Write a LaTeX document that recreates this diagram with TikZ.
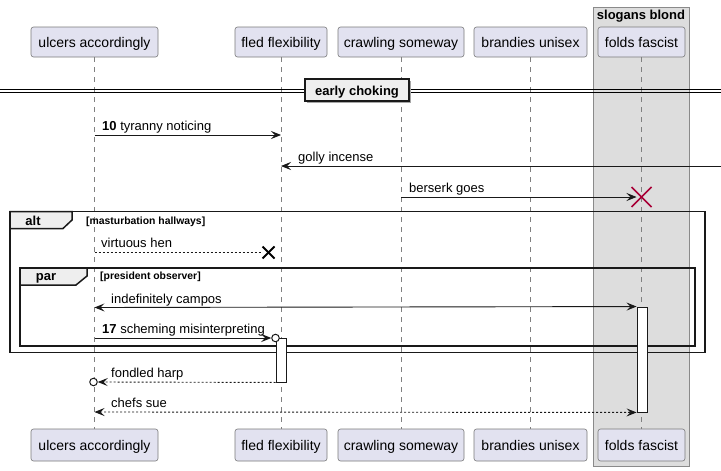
\documentclass[tikz,border=0pt]{standalone}
\usepackage{fontspec}
\setmainfont{Liberation Sans}
\usetikzlibrary{arrows.meta}
\definecolor{partfill}{HTML}{E2E2F0}
\definecolor{partline}{HTML}{7A7A7A}
\definecolor{grpfill}{HTML}{DDDDDD}
\definecolor{grpline}{HTML}{8A8A8A}
\definecolor{tabfill}{HTML}{EEEEEE}
\definecolor{xred}{HTML}{A80036}
\definecolor{lifec}{HTML}{808080}
\begin{document}
\begin{tikzpicture}[x=1pt,y=-1pt,
  part/.style={draw=partline,fill=partfill,rounded corners=2.5pt,line width=0.6pt,
    font=\fontsize{14}{16}\selectfont,inner sep=0pt,minimum height=30pt,
    text height=11.5pt,text depth=1.5pt},
  life/.style={draw=lifec,line width=0.6pt,dash pattern=on 5pt off 5pt},
  msgline/.style={line width=0.9pt,draw=black!90},
  tip/.style={-{Stealth[length=10pt,width=8pt,inset=4pt]}},
  bitip/.style={{Stealth[length=10pt,width=8pt,inset=4pt]}-{Stealth[length=10pt,width=8pt,inset=4pt]}},
  dashmsg/.style={dash pattern=on 2pt off 2pt},
  msg/.style={font=\fontsize{13}{15}\selectfont,anchor=base west,inner sep=0pt},
  frameline/.style={line width=1.5pt,draw=black!90},
  tabtext/.style={font=\bfseries\fontsize{13}{15}\selectfont,anchor=base,inner sep=0pt},
  condtext/.style={font=\bfseries\fontsize{10.4}{12}\selectfont,anchor=base west,inner sep=0pt},
  act/.style={draw=black!90,fill=white,line width=0.9pt,minimum width=10pt,inner sep=0pt},
  circ/.style={circle,draw=black!90,line width=1pt,fill=white,minimum size=7.5pt,inner sep=0pt}
]
\useasboundingbox (0,0) rectangle (721,471);
\fill[white] (0,0) rectangle (721,471);

% group box
\draw[draw=grpline,fill=grpfill,line width=0.8pt] (593,7) rectangle (689,466);
\node[font=\bfseries\fontsize{13}{15}\selectfont,anchor=base,inner sep=0pt] (grp) at (641,19.5) {slogans blond};

% participants top
\node[part,minimum width=127pt] (ua) at (94.5,42) {ulcers accordingly};
\node[part,minimum width=92pt] (ff) at (281,42) {fled flexibility};
\node[part,minimum width=126pt] (cs) at (401,42) {crawling someway};
\node[part,minimum width=113pt] (bu) at (530.5,42) {brandies unisex};
\node[part,minimum width=87pt] (fo) at (641.5,42) {folds fascist};
% participants bottom
\node[part,minimum width=127pt,minimum height=32pt] (uab) at (94.5,445) {ulcers accordingly};
\node[part,minimum width=92pt,minimum height=32pt] (ffb) at (281,445) {fled flexibility};
\node[part,minimum width=126pt,minimum height=32pt] (csb) at (401,445) {crawling someway};
\node[part,minimum width=113pt,minimum height=32pt] (bub) at (530.5,445) {brandies unisex};
\node[part,minimum width=87pt,minimum height=32pt] (fob) at (641.5,445) {folds fascist};

% lifelines
\draw[life] (ua.south) -- (uab.north);
\draw[life] (ff.south) -- (ffb.north);
\draw[life] (cs.south) -- (csb.north);
\draw[life] (bu.south) -- (bub.north);
\draw[life] (fo.south) -- (fob.north);

% divider
\draw[line width=0.9pt] (0,89.5) -- (721,89.5);
\draw[line width=0.9pt] (0,92.5) -- (721,92.5);
\fill[black!35] (307,81) rectangle (411,103);
\node[draw=black!90,fill=tabfill,line width=1.5pt,minimum width=104pt,minimum height=22pt,inner sep=0pt] (div) at (357,90) {};
\node[tabtext] (divt) at (357,95) {early choking};

% message 1
\coordinate (m1a) at (ua |- 0,135);
\coordinate (m1b) at (ff |- 0,135);
\draw[msgline,tip] (m1a) -- (m1b);
\node[msg] (l1) at (102,130.5) {\textbf{10} tyranny noticing};

% message 2
\coordinate (m2a) at (721,166);
\coordinate (m2b) at (ff |- 0,166);
\draw[msgline,tip] (m2a) -- (m2b);
\node[msg] (l2) at (298,161.5) {golly incense};

% message 3 with destroy
\coordinate (m3a) at (cs |- 0,197);
\coordinate (m3b) at (636.5,197);
\coordinate (x3) at (fo |- 0,197);
\draw[msgline,tip] (m3a) -- (m3b);
\draw[xred,line width=1.6pt] ([shift={(-10,-10)}]x3) -- ([shift={(10,10)}]x3);
\draw[xred,line width=1.6pt] ([shift={(-10,10)}]x3) -- ([shift={(10,-10)}]x3);
\node[msg] (l3) at (409,192) {berserk goes};

% alt frame
\draw[frameline] (10,211.5) rectangle (705,352.5);
\draw[frameline,fill=tabfill] (10,211.5) -- (72,211.5) -- (72,220) -- (63,228.5) -- (10,228.5) -- cycle;
\node[tabtext] (altt) at (33,225) {alt};
\node[condtext] (altc) at (86,224.5) {[masturbation hallways]};

% virtuous hen
\coordinate (m4a) at (ua |- 0,252.5);
\coordinate (x4) at (268.5,252.5);
\draw[msgline,dashmsg] (m4a) -- (262,252.5);
\draw[line width=1.8pt] ([shift={(-6,-6)}]x4) -- ([shift={(6,6)}]x4);
\draw[line width=1.8pt] ([shift={(-6,6)}]x4) -- ([shift={(6,-6)}]x4);
\node[msg] (l4) at (101,247.5) {virtuous hen};

% par frame
\draw[frameline] (20,268) rectangle (695,346);
\draw[frameline,fill=tabfill] (20,268) -- (87,268) -- (87,276) -- (76,285) -- (20,285) -- cycle;
\node[tabtext] (part) at (46,280) {par};
\node[condtext] (parc) at (100,279.5) {[president observer]};

% activations
\node[act,minimum height=105pt] (actF) at (642,359.5) {};
\node[act,minimum height=44pt] (actB) at (281,360) {};

% indefinitely campos
\coordinate (m5a) at (ua |- 0,307.5);
\coordinate (m5b) at (actF.north west);
\draw[msgline,bitip] (m5a) -- (m5b);
\node[msg] (l5) at (111,303) {indefinitely campos};

% scheming misinterpreting
\coordinate (m6a) at (ua |- 0,338);
\node[circ] (c6) at (275.5,338) {};
\draw[msgline,tip] (m6a) -- (c6.west);
\node[msg] (l6) at (102,333.5) {\textbf{17} scheming misinterpreting};

% fondled harp
\node[circ] (c7) at (93.5,382) {};
\draw[msgline,dashmsg,tip] (actB.south west) -- (c7.east);
\node[msg] (l7) at (111,377.5) {fondled harp};

% chefs sue
\coordinate (m8a) at (ua |- 0,412);
\draw[msgline,dashmsg,bitip] (m8a) -- (actF.south west);
\node[msg] (l8) at (111,407.5) {chefs sue};
\end{tikzpicture}
\end{document}
